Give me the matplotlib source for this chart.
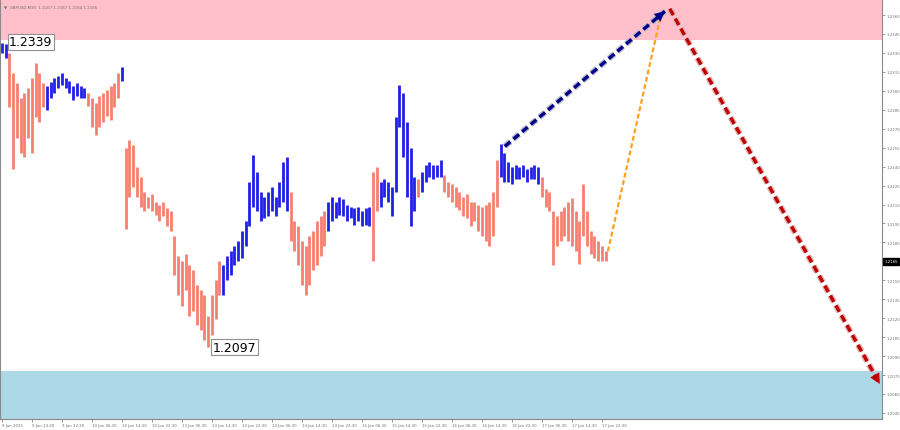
import matplotlib
matplotlib.use("Agg")
import matplotlib.pyplot as plt
import matplotlib.patheffects as pe

# GBPUSD M30, one entry per bar (high / low)
highs = [1.2338, 1.2337, 1.2330, 1.2314, 1.2306, 1.2294, 1.2298, 1.2302, 1.2310, 1.2322,
         1.2314, 1.2306, 1.2304, 1.2307, 1.2310, 1.2312, 1.2314, 1.2310, 1.2308, 1.2304,
         1.2306, 1.2304, 1.2302, 1.2298, 1.2294, 1.2290, 1.2296, 1.2298, 1.2301, 1.2304,
         1.2306, 1.2314, 1.2319, 1.2255, 1.2261, 1.2257, 1.2240, 1.2232, 1.2220, 1.2216,
         1.2218, 1.2212, 1.2210, 1.2212, 1.2207, 1.2205, 1.2185, 1.2169, 1.2165, 1.2171,
         1.2162, 1.2158, 1.2146, 1.2142, 1.2138, 1.2122, 1.2138, 1.2150, 1.2165, 1.2162,
         1.2169, 1.2173, 1.2177, 1.2181, 1.2189, 1.2197, 1.2228, 1.2249, 1.2236, 1.2220,
         1.2216, 1.2220, 1.2224, 1.2216, 1.2228, 1.2244, 1.2248, 1.2220, 1.2197, 1.2193,
         1.2181, 1.2177, 1.2185, 1.2189, 1.2197, 1.2201, 1.2205, 1.2212, 1.2216, 1.2212,
         1.2216, 1.2214, 1.2210, 1.2208, 1.2207, 1.2208, 1.2205, 1.2207, 1.2208, 1.2236,
         1.2240, 1.2228, 1.2230, 1.2228, 1.2224, 1.2279, 1.2305, 1.2298, 1.2275, 1.2255,
         1.2232, 1.2230, 1.2236, 1.2241, 1.2244, 1.2241, 1.2241, 1.2245, 1.2233, 1.2228,
         1.2226, 1.2224, 1.2220, 1.2216, 1.2218, 1.2212, 1.2212, 1.2210, 1.2208, 1.2210,
         1.2212, 1.2220, 1.2245, 1.2258, 1.2251, 1.2244, 1.2240, 1.2241, 1.2240, 1.2241,
         1.2238, 1.2240, 1.2241, 1.2240, 1.2232, 1.2222, 1.2220, 1.2205, 1.2201, 1.2205,
         1.2208, 1.2212, 1.2215, 1.2205, 1.2197, 1.2226, 1.2205, 1.2189, 1.2185, 1.2181,
         1.2177, 1.2173]
lows = [1.2330, 1.2326, 1.2287, 1.2238, 1.2263, 1.2251, 1.2248, 1.2263, 1.2251, 1.2279,
        1.2275, 1.2287, 1.2285, 1.2294, 1.2298, 1.2302, 1.2305, 1.2302, 1.2298, 1.2293,
        1.2296, 1.2294, 1.2294, 1.2288, 1.2271, 1.2265, 1.2271, 1.2275, 1.2280, 1.2277,
        1.2287, 1.2294, 1.2308, 1.2191, 1.2216, 1.2224, 1.2216, 1.2208, 1.2205, 1.2207,
        1.2205, 1.2202, 1.2197, 1.2201, 1.2193, 1.2189, 1.2154, 1.2138, 1.2130, 1.2142,
        1.2122, 1.2126, 1.2115, 1.2111, 1.2103, 1.2097, 1.2107, 1.2119, 1.2138, 1.2138,
        1.2150, 1.2154, 1.2162, 1.2165, 1.2168, 1.2177, 1.2193, 1.2208, 1.2205, 1.2197,
        1.2199, 1.2201, 1.2205, 1.2201, 1.2208, 1.2212, 1.2205, 1.2181, 1.2173, 1.2162,
        1.2146, 1.2138, 1.2146, 1.2158, 1.2162, 1.2169, 1.2177, 1.2189, 1.2197, 1.2199,
        1.2202, 1.2201, 1.2197, 1.2199, 1.2194, 1.2197, 1.2193, 1.2194, 1.2193, 1.2165,
        1.2205, 1.2208, 1.2216, 1.2212, 1.2201, 1.2220, 1.2271, 1.2248, 1.2216, 1.2193,
        1.2205, 1.2216, 1.2220, 1.2228, 1.2232, 1.2230, 1.2232, 1.2232, 1.2220, 1.2216,
        1.2212, 1.2208, 1.2206, 1.2201, 1.2199, 1.2193, 1.2197, 1.2189, 1.2185, 1.2181,
        1.2177, 1.2185, 1.2208, 1.2232, 1.2228, 1.2228, 1.2226, 1.2230, 1.2230, 1.2232,
        1.2228, 1.2230, 1.2230, 1.2226, 1.2216, 1.2208, 1.2205, 1.2162, 1.2177, 1.2181,
        1.2185, 1.2181, 1.2177, 1.2173, 1.2163, 1.2185, 1.2177, 1.2171, 1.2168, 1.2165,
        1.2165, 1.2165]

# wave colouring: (direction, number of bars)
wave_runs = [("up", 2), ("down", 10), ("up", 11), ("down", 9), ("up", 1), ("down", 26),
             ("up", 18), ("down", 10), ("up", 12), ("down", 2), ("up", 10), ("down", 1),
             ("up", 6), ("down", 15), ("up", 11), ("down", 18)]

time_labels = ["9 Jan 2025", "9 Jan 14:30", "9 Jan 22:30", "10 Jan 06:30", "10 Jan 14:30",
               "10 Jan 22:30", "13 Jan 06:30", "13 Jan 14:30", "13 Jan 22:30", "14 Jan 06:30",
               "14 Jan 14:30", "14 Jan 22:30", "15 Jan 06:30", "15 Jan 14:30", "15 Jan 22:30",
               "16 Jan 06:30", "16 Jan 14:30", "16 Jan 22:30", "17 Jan 06:30", "17 Jan 14:30",
               "17 Jan 22:30"]
bars_per_label = 8

price_ticks = [1.2045, 1.2060, 1.2075, 1.2090, 1.2105, 1.2120, 1.2135, 1.2150, 1.2165,
               1.2180, 1.2195, 1.2210, 1.2225, 1.2240, 1.2255, 1.2270, 1.2285, 1.2300,
               1.2315, 1.2330, 1.2345, 1.2360]

resistance_zone = (1.2340, 1.2380)
support_zone = (1.2000, 1.2078)

# forecast paths (bar index, price)
forecast_blue = [(134.1, 1.2256), (176.8, 1.2363)]
forecast_orange = [(161.6, 1.2173), (175.5, 1.2357)]
forecast_red = [(178.1, 1.2365), (234.1, 1.2068)]

current_price = 1.2165
header = "\u25bc  GBPUSD,M30  1.2167 1.2167 1.2164 1.2165"

up_col = "#2020e8"
down_col = "#f58070"
small = 2.8

colors = []
for d, n in wave_runs:
    colors += [up_col if d == "up" else down_col] * n
xs = list(range(len(highs)))

fig = plt.figure(figsize=(9, 4.31), dpi=100)
ax = fig.add_axes([0, 11 / 431, 882 / 900, 420 / 431])
ax.set_xlim(-0.53, 234.7)
ax.set_ylim(1.20402, 1.23727)

ax.axhspan(*resistance_zone, color="#ffc0cb", lw=0, zorder=0)
ax.axhspan(*support_zone, color="#add8e6", lw=0, zorder=0)

ax.vlines(xs, lows, highs, colors=colors, linewidth=2.0, zorder=2)

# extreme labels
hi_i = highs.index(max(highs[:3]))
ax.text(hi_i + 1.9, 1.2339, "1.2339", fontsize=9, va="center", ha="left", zorder=5,
        bbox=dict(boxstyle="square,pad=0.12", fc="white", ec="#909090", lw=0.8))
lo_i = lows.index(min(lows))
ax.text(lo_i + 1.2, min(lows), "1.2097", fontsize=9, va="center", ha="left", zorder=5,
        bbox=dict(boxstyle="square,pad=0.12", fc="white", ec="#909090", lw=0.8))


def forecast(path, col, lw, head=True, shadow=None):
    (x0, y0), (x1, y1) = path
    effects = None
    if shadow:
        effects = [pe.withStroke(linewidth=lw + 2, foreground=shadow)]
    ax.plot([x0, x1], [y0, y1], ls=(0, (2.2, 1.2)), color=col, lw=lw, zorder=4,
            path_effects=effects)
    if head:
        fx = x0 + (x1 - x0) * 0.9
        fy = y0 + (y1 - y0) * 0.9
        ax.annotate("", xy=(x1, y1), xytext=(fx, fy), zorder=4,
                    arrowprops=dict(arrowstyle="-|>", color=col, lw=0.1,
                                    mutation_scale=18, shrinkA=0, shrinkB=0))


forecast(forecast_orange, "#ffa020", 1.6, head=False)
forecast(forecast_blue, "#000088", 2.4, shadow="#b8b8c8")
forecast(forecast_red, "#c00000", 2.4, shadow="#e0b0b0")

# axes styling like the terminal
ax.spines["top"].set_visible(False)
for s in ["left", "right", "bottom"]:
    ax.spines[s].set_color("#8a8a8a")
    ax.spines[s].set_linewidth(0.8)

ax.yaxis.tick_right()
ax.set_yticks(price_ticks)
ax.set_yticklabels([f"{p:.4f}" for p in price_ticks])
ax.set_xticks([i * bars_per_label for i in range(len(time_labels))])
ax.set_xticklabels(time_labels, ha="left")
ax.tick_params(axis="both", labelsize=small, colors="#707070", length=2, width=0.5, pad=1)

ax.text(1.003, current_price, f"{current_price:.4f}", transform=ax.get_yaxis_transform(),
        fontsize=small, color="white", va="center", ha="left", clip_on=False, zorder=6,
        bbox=dict(boxstyle="square,pad=0.3", fc="black", ec="black"))

ax.text(0.004, 0.988, header, transform=ax.transAxes, fontsize=2.9, color="#707070",
        va="top", ha="left")

fig.savefig("out.png", dpi=100)
